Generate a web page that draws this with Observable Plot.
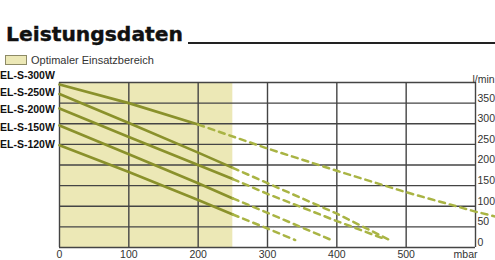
<!DOCTYPE html>
<html>
<head>
<meta charset="utf-8">
<script src="https://cdn.jsdelivr.net/npm/d3@7"></script>
<script src="https://cdn.jsdelivr.net/npm/@observablehq/plot@0.6"></script>
<style>
  html, body { margin: 0; padding: 0; background: #fff; }
  #wrap { position: relative; width: 495px; height: 260px; overflow: hidden; font-family: "Liberation Sans", Arial, sans-serif; }
  #title { position: absolute; left: 6px; top: 20px; font-family: "DejaVu Sans", sans-serif; font-weight: bold; font-size: 20.3px; line-height: 28px; color: #111; white-space: nowrap; -webkit-text-stroke: 0.4px #111; }
  #rule { position: absolute; left: 188px; top: 42px; width: 307px; height: 2px; background: #222; }
  #legend { position: absolute; left: 5px; top: 54px; display: flex; align-items: center; font-size: 11px; color: #333; white-space: nowrap; }
  #legend .box { width: 20px; height: 8px; border: 1px solid #8d8a66; margin-right: 4px; }
  #labels { position: absolute; left: 0px; top: 67px; font-weight: bold; font-size: 10.5px; line-height: 17.2px; color: #111; white-space: nowrap; }
  #chart { position: absolute; left: 0; top: 66px; }
</style>
</head>
<body>
<div id="wrap">
  <div id="title"></div>
  <div id="rule"></div>
  <div id="legend"><div class="box"></div><span id="legendText"></span></div>
  <div id="labels"></div>
  <div id="chart"></div>
</div>
<script>
// ---- data ----
const titleText = "Leistungsdaten";
const legendLabel = "Optimaler Einsatzbereich";
const models = ["EL-S-300W", "EL-S-250W", "EL-S-200W", "EL-S-150W", "EL-S-120W"];
const pressure300 = [0, 100, 200, 300, 400, 500, 600, 629];
const flow300     = [395, 350, 298, 240, 186, 134, 87, 75];
const pressure250 = [0, 100, 200, 250, 300, 400, 480];
const flow250     = [372, 302, 230, 193, 156, 82, 15];
const pressure200 = [0, 100, 200, 250, 300, 400, 467];
const flow200     = [337, 268, 200, 166, 130, 64, 22];
const pressure150 = [0, 100, 200, 250, 300, 391];
const flow150     = [296, 226, 156, 119, 84, 19];
const pressure120 = [0, 100, 200, 250, 300, 340];
const flow120     = [248, 183, 115, 80, 46, 18];
const solidUntil  = [200, 250, 250, 250, 250];
const optimalRange = [0, 250];
const xGrid = [0, 100, 200, 300, 400, 500, 600];
const yGrid = [0, 50, 100, 150, 200, 250, 300, 350, 400];
const xTickLabels = [0, 100, 200, 300, 400, 500];
const yTickLabels = [0, 50, 100, 150, 200, 250, 300, 350];
const xUnit = "mbar";
const yUnit = "l/min";

// ---- build ----
const pressures = [pressure300, pressure250, pressure200, pressure150, pressure120];
const flows = [flow300, flow250, flow200, flow150, flow120];
const rows = [];
models.forEach((m, i) => pressures[i].forEach((p, j) => rows.push({model: m, p, q: flows[i][j], cut: solidUntil[i]})));
const solidRows = rows.filter(d => d.p <= d.cut);
const dashRows = rows.filter(d => d.p >= d.cut);

document.getElementById("title").textContent = titleText;
document.getElementById("legendText").textContent = legendLabel;
const shade = "#ece8b6";
document.querySelector("#legend .box").style.background = shade;
document.getElementById("labels").innerHTML = models.map(m => `<div>${m}</div>`).join("");

const chart = Plot.plot({
  width: 495,
  height: 194,
  marginTop: 16,
  marginBottom: 13,
  marginLeft: 59,
  marginRight: 20,
  x: {domain: [0, 600]},
  y: {domain: [0, 400]},
  style: {fontFamily: "'Liberation Sans', Arial, sans-serif", fontSize: "10.5px", color: "#333", overflow: "visible"},
  marks: [
    Plot.rect([optimalRange], {x1: d => d[0], x2: d => d[1], fill: shade}),
    Plot.ruleY(yGrid, {stroke: "#444", strokeWidth: 1.4}),
    Plot.ruleX(xGrid, {stroke: "#444", strokeWidth: 1.4}),
    Plot.line(solidRows, {x: "p", y: "q", z: "model", stroke: "#8a912b", strokeWidth: 2.7}),
    Plot.line(dashRows, {x: "p", y: "q", z: "model", stroke: "#a9b444", strokeWidth: 2.5, strokeDasharray: "6,5"}),
    Plot.axisX(xTickLabels, {anchor: "bottom", tickSize: 0, tickPadding: 3, label: null}),
    Plot.text([xUnit], {x: 600, frameAnchor: "bottom", textAnchor: "end", lineAnchor: "top", dy: 3, dx: 2}),
    Plot.axisY(yTickLabels, {anchor: "right", tickSize: 0, tickPadding: 2, dy: -5, label: null}),
    Plot.text([yUnit], {x: 600, frameAnchor: "top", textAnchor: "start", dx: -3, dy: -7})
  ]
});
document.getElementById("chart").appendChild(chart);
</script>
</body>
</html>
